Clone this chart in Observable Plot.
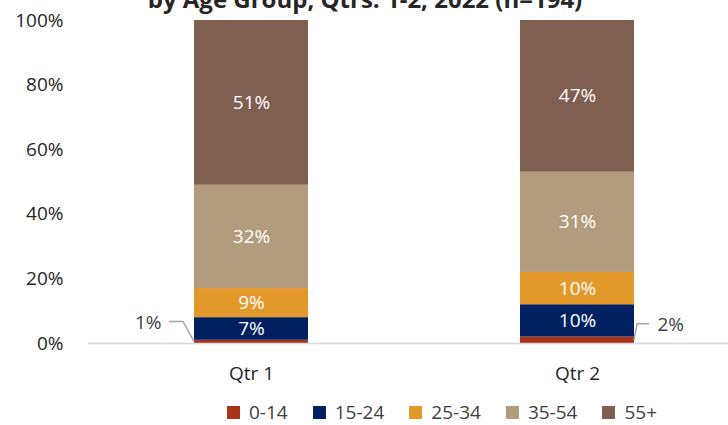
<!DOCTYPE html>
<html><head><meta charset="utf-8">
<script src="https://cdn.jsdelivr.net/npm/d3@7"></script>
<script src="https://cdn.jsdelivr.net/npm/@observablehq/plot@0.6"></script>
<style>
body{margin:0;width:728px;height:425px;overflow:hidden;position:relative;background:#fff;font-family:"Open Sans",Lato,sans-serif;}
#title{position:absolute;top:-13px;left:0;width:730px;text-align:center;font-weight:bold;font-size:24px;line-height:24px;color:#262626;white-space:nowrap;}
#chart{position:absolute;top:0;left:0;}
#legend{position:absolute;top:399px;left:227px;display:flex;align-items:center;font-size:19px;color:#404040;white-space:nowrap;}
#legend .item{display:flex;align-items:center;margin-right:25px;}
#legend .sw{width:13px;height:13px;margin-right:9px;}
</style></head>
<body>
<div id="title">by Age Group, Qtrs. 1-2, 2022 (n=194)</div>
<div id="chart"></div>
<div id="legend"></div>
<script>
const categories = ["Qtr 1", "Qtr 2"];
const ageGroups = ["0-14", "15-24", "25-34", "35-54", "55+"];
const qtr1 = [1, 7, 9, 32, 51];
const qtr2 = [2, 10, 10, 31, 47];
const groupColors = ["#a8331a", "#002060", "#e3992a", "#b39c7d", "#7f6050"];
const yTicks = [0, 20, 40, 60, 80, 100];

const series = [qtr1, qtr2];
const data = [];
categories.forEach((c, i) => ageGroups.forEach((g, j) => data.push({quarter: c, group: g, value: series[i][j]})));
const small = data.filter(d => d.group === "0-14");

const plot = Plot.plot({
  width: 728,
  height: 392,
  marginTop: 20,
  marginBottom: 49,
  marginLeft: 88,
  marginRight: 0,
  style: {fontFamily: '"Open Sans", Lato, sans-serif', fontSize: "19px", color: "#404040", background: "transparent"},
  x: {domain: categories, range: [88, 740], paddingInner: 0.65, paddingOuter: 0.325, label: null},
  y: {domain: [0, 100], label: null},
  color: {domain: ageGroups, range: groupColors},
  marks: [
    Plot.axisY(yTicks, {tickSize: 0, tickPadding: 25, tickFormat: d => d + "%", label: null, fontSize: 19, fill: "#262626"}),
    Plot.axisX({tickSize: 0, tickPadding: 23, label: null, fontSize: 19, fill: "#262626"}),
    Plot.barY(data, {x: "quarter", y: "value", fill: "group"}),
    Plot.ruleY([0], {stroke: "#d9d9d9", strokeWidth: 1.5}),
    Plot.text(data, Plot.stackY({x: "quarter", y: "value", text: d => d.group === "0-14" ? "" : d.value + "%", fill: "white", fontSize: 19})),
    Plot.text(small.filter(d => d.quarter === "Qtr 1"), {x: "quarter", y: d => d.value / 2, text: d => d.value + "%", dx: -90, dy: -19, textAnchor: "end", fill: "#404040", fontSize: 19}),
    Plot.text(small.filter(d => d.quarter === "Qtr 2"), {x: "quarter", y: d => d.value / 2, text: d => d.value + "%", dx: 80, dy: -15, textAnchor: "start", fill: "#404040", fontSize: 19})
  ]
});
document.getElementById("chart").appendChild(plot);

// leader lines, positioned through the plot's own scales
const xs = plot.scale("x"), ys = plot.scale("y");
const bw = xs.bandwidth;
const svg = d3.select(plot);
small.forEach(d => {
  const x0 = xs.apply(d.quarter);
  const y0 = ys.apply(d.value / 2);
  let pts;
  if (d.quarter === "Qtr 1") pts = [[x0 - 25, y0 - 20], [x0 - 11, y0 - 20], [x0, y0]];
  else pts = [[x0 + bw, y0], [x0 + bw + 3, y0 - 16], [x0 + bw + 15, y0 - 16]];
  svg.append("path").attr("d", d3.line()(pts)).attr("fill", "none").attr("stroke", "#a6a6a6").attr("stroke-width", 1.5);
});

const legend = document.getElementById("legend");
ageGroups.forEach((g, i) => {
  const item = document.createElement("div");
  item.className = "item";
  item.innerHTML = `<div class="sw" style="background:${groupColors[i]}"></div><span>${g}</span>`;
  legend.appendChild(item);
});
</script>
</body></html>
